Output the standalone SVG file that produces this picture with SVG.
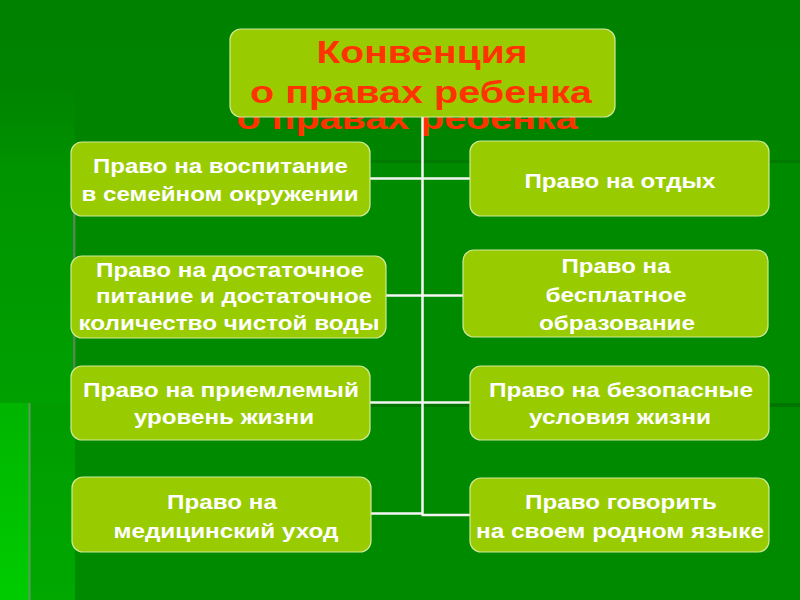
<svg xmlns="http://www.w3.org/2000/svg" width="800" height="600" viewBox="0 0 800 600">
<defs>
<linearGradient id="bg" x1="0" y1="0" x2="0" y2="1">
<stop offset="0" stop-color="#008200"/>
<stop offset="1" stop-color="#008c00"/>
</linearGradient>
<linearGradient id="leftg" x1="0" y1="0" x2="0" y2="1">
<stop offset="0" stop-color="#008400" stop-opacity="0"/>
<stop offset="0.2" stop-color="#009400"/>
<stop offset="1" stop-color="#00aa00"/>
</linearGradient>
<linearGradient id="stripg" x1="0" y1="0" x2="0" y2="1">
<stop offset="0" stop-color="#00b400"/>
<stop offset="1" stop-color="#00cc00"/>
</linearGradient>
<linearGradient id="midg" x1="0" y1="0" x2="0" y2="1">
<stop offset="0" stop-color="#009c00"/>
<stop offset="1" stop-color="#00a800"/>
</linearGradient>
<style>
.box{fill:#99cc00;stroke:#cfe89a;stroke-width:1.2}
.t{font-family:"Liberation Sans",Arial,sans-serif;font-weight:bold;font-size:21px;fill:#ffffff;text-anchor:middle}
.title{font-family:"Liberation Sans",Arial,sans-serif;font-weight:bold;font-size:31px;fill:#ff3300;text-anchor:middle}
.c{stroke:#f4f4f4;stroke-width:2.5;fill:none}
</style>
</defs>
<g id="background">
<rect x="0" y="0" width="800" height="600" fill="url(#bg)"/>
<rect x="0" y="60" width="75" height="540" fill="url(#leftg)"/>
<rect x="75" y="160" width="725" height="440" fill="#008a00"/>
<rect x="75" y="160" width="725" height="3" fill="#007a00"/>
<rect x="73" y="160" width="2.5" height="440" fill="#4f8a4f"/>
<rect x="30" y="403" width="45" height="197" fill="url(#midg)"/>
<rect x="75" y="403" width="725" height="197" fill="#008a00"/>
<rect x="75" y="403" width="725" height="4" fill="#007600"/>
<rect x="0" y="403" width="29" height="197" fill="url(#stripg)"/>
<rect x="28.5" y="403" width="2" height="197" fill="#5f9a5f"/>
</g>
<text class="title" x="407" y="129" textLength="341" lengthAdjust="spacingAndGlyphs">о правах ребенка</text>
<g id="connectors">
<line class="c" x1="422.5" y1="117" x2="422.5" y2="515"/>
<line class="c" x1="370" y1="178.5" x2="470" y2="178.5"/>
<line class="c" x1="386" y1="295.5" x2="463" y2="295.5"/>
<line class="c" x1="370" y1="402.5" x2="470" y2="402.5"/>
<line class="c" x1="371" y1="513.5" x2="422.5" y2="513.5"/>
<line class="c" x1="421.5" y1="515" x2="470" y2="515"/>
</g>
<g id="title">
<rect class="box" x="230" y="29" width="385" height="88" rx="11"/>
<text class="title" x="422" y="63" textLength="211" lengthAdjust="spacingAndGlyphs">Конвенция</text>
<text class="title" x="421" y="103" textLength="342" lengthAdjust="spacingAndGlyphs">о правах ребенка</text>
</g>
<g id="left1">
<rect class="box" x="71" y="142" width="299" height="74" rx="11"/>
<text class="t" x="220.5" y="173" textLength="255" lengthAdjust="spacingAndGlyphs">Право на воспитание</text>
<text class="t" x="220" y="201" textLength="277" lengthAdjust="spacingAndGlyphs">в семейном окружении</text>
</g>
<g id="left2">
<rect class="box" x="71" y="256" width="315" height="82" rx="11"/>
<text class="t" x="230" y="277" textLength="268" lengthAdjust="spacingAndGlyphs">Право на достаточное</text>
<text class="t" x="234" y="303" textLength="276" lengthAdjust="spacingAndGlyphs">питание и достаточное</text>
<text class="t" x="229" y="330" textLength="301" lengthAdjust="spacingAndGlyphs">количество чистой воды</text>
</g>
<g id="left3">
<rect class="box" x="71" y="366" width="299" height="74" rx="11"/>
<text class="t" x="221" y="397" textLength="276" lengthAdjust="spacingAndGlyphs">Право на приемлемый</text>
<text class="t" x="224" y="424" textLength="180" lengthAdjust="spacingAndGlyphs">уровень жизни</text>
</g>
<g id="left4">
<rect class="box" x="72" y="477" width="299" height="75" rx="11"/>
<text class="t" x="222" y="509" textLength="110" lengthAdjust="spacingAndGlyphs">Право на</text>
<text class="t" x="226" y="538" textLength="225" lengthAdjust="spacingAndGlyphs">медицинский уход</text>
</g>
<g id="right1">
<rect class="box" x="470" y="141" width="299" height="75" rx="11"/>
<text class="t" x="620" y="188" textLength="191" lengthAdjust="spacingAndGlyphs">Право на отдых</text>
</g>
<g id="right2">
<rect class="box" x="463" y="250" width="305" height="87" rx="11"/>
<text class="t" x="616" y="273" textLength="109" lengthAdjust="spacingAndGlyphs">Право на</text>
<text class="t" x="616" y="302" textLength="141" lengthAdjust="spacingAndGlyphs">бесплатное</text>
<text class="t" x="617" y="330" textLength="156" lengthAdjust="spacingAndGlyphs">образование</text>
</g>
<g id="right3">
<rect class="box" x="470" y="366" width="299" height="74" rx="11"/>
<text class="t" x="621" y="397" textLength="264" lengthAdjust="spacingAndGlyphs">Право на безопасные</text>
<text class="t" x="620" y="424" textLength="182" lengthAdjust="spacingAndGlyphs">условия жизни</text>
</g>
<g id="right4">
<rect class="box" x="470" y="478" width="299" height="74" rx="11"/>
<text class="t" x="621" y="509" textLength="192" lengthAdjust="spacingAndGlyphs">Право говорить</text>
<text class="t" x="620" y="538" textLength="288" lengthAdjust="spacingAndGlyphs">на своем родном языке</text>
</g>
</svg>
